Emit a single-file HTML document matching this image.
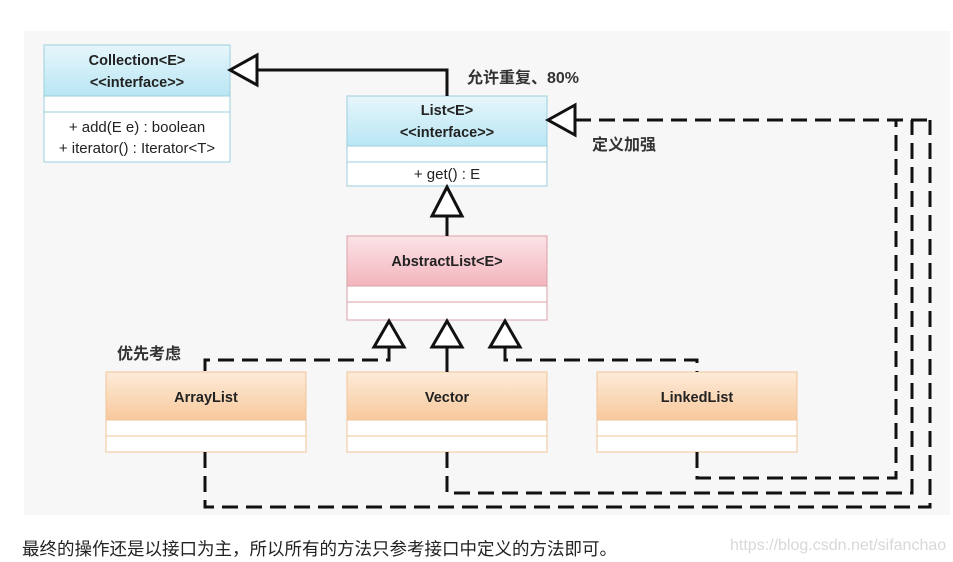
<!DOCTYPE html>
<html><head><meta charset="utf-8"><style>
html,body{margin:0;padding:0;background:#fff;width:953px;height:562px;overflow:hidden}
svg{display:block}
text{font-family:"Liberation Sans","Noto Sans CJK SC",sans-serif}
</style></head><body>
<svg width="953" height="562" viewBox="0 0 953 562" xmlns="http://www.w3.org/2000/svg">
<defs>
<linearGradient id="blue" x1="0" y1="0" x2="0" y2="1"><stop offset="0" stop-color="#e6f6fb"/><stop offset="1" stop-color="#b9e6f4"/></linearGradient>
<linearGradient id="pink" x1="0" y1="0" x2="0" y2="1"><stop offset="0" stop-color="#fbe3e6"/><stop offset="1" stop-color="#f3b5bd"/></linearGradient>
<linearGradient id="orange" x1="0" y1="0" x2="0" y2="1"><stop offset="0" stop-color="#fdebd9"/><stop offset="1" stop-color="#f8c99c"/></linearGradient>
</defs>
<rect x="24" y="31" width="926" height="484" fill="#f7f7f7"/>

<rect x="44" y="45" width="186" height="117" fill="#fff" stroke="#9ccfde"/>
<rect x="44" y="45" width="186" height="51" fill="url(#blue)" stroke="#9ccfde"/>
<line x1="44" y1="112" x2="230" y2="112" stroke="#9ccfde"/>
<text x="137" y="65" font-size="14.5" font-weight="bold" text-anchor="middle" fill="#222">Collection&lt;E&gt;</text>
<text x="137" y="87" font-size="14.5" font-weight="bold" text-anchor="middle" fill="#222">&lt;&lt;interface&gt;&gt;</text>
<text x="137" y="132" font-size="15" text-anchor="middle" fill="#222">+ add(E e) : boolean</text>
<text x="137" y="153" font-size="15" text-anchor="middle" fill="#222">+ iterator() : Iterator&lt;T&gt;</text>

<rect x="347" y="96" width="200" height="90" fill="#fff" stroke="#9ccfde"/>
<rect x="347" y="96" width="200" height="50" fill="url(#blue)" stroke="#9ccfde"/>
<line x1="347" y1="162" x2="547" y2="162" stroke="#9ccfde"/>
<text x="447" y="115" font-size="14.5" font-weight="bold" text-anchor="middle" fill="#222">List&lt;E&gt;</text>
<text x="447" y="137" font-size="14.5" font-weight="bold" text-anchor="middle" fill="#222">&lt;&lt;interface&gt;&gt;</text>
<text x="447" y="179" font-size="15" text-anchor="middle" fill="#222">+ get() : E</text>

<rect x="347" y="236" width="200" height="84" fill="#fff" stroke="#d9a0a8"/>
<rect x="347" y="236" width="200" height="50" fill="url(#pink)" stroke="#d9a0a8"/>
<line x1="347" y1="302" x2="547" y2="302" stroke="#d9a0a8"/>
<text x="447" y="266" font-size="14.5" font-weight="bold" text-anchor="middle" fill="#222">AbstractList&lt;E&gt;</text>

<g stroke="#f0c49a">
<rect x="106" y="372" width="200" height="80" fill="#fff"/><rect x="106" y="372" width="200" height="48" fill="url(#orange)"/><line x1="106" y1="436" x2="306" y2="436"/>
<rect x="347" y="372" width="200" height="80" fill="#fff"/><rect x="347" y="372" width="200" height="48" fill="url(#orange)"/><line x1="347" y1="436" x2="547" y2="436"/>
<rect x="597" y="372" width="200" height="80" fill="#fff"/><rect x="597" y="372" width="200" height="48" fill="url(#orange)"/><line x1="597" y1="436" x2="797" y2="436"/>
</g>
<text x="206" y="402" font-size="14.5" font-weight="bold" text-anchor="middle" fill="#222">ArrayList</text>
<text x="447" y="402" font-size="14.5" font-weight="bold" text-anchor="middle" fill="#222">Vector</text>
<text x="697" y="402" font-size="14.5" font-weight="bold" text-anchor="middle" fill="#222">LinkedList</text>

<g fill="none" stroke="#111" stroke-width="3">
<polyline points="257,70 447,70 447,96"/>
<line x1="447" y1="216" x2="447" y2="236"/>
<line x1="447" y1="347" x2="447" y2="372"/>
<polygon points="230,70 257,55 257,85" fill="#fff"/>
<polygon points="447,187 432,216 462,216" fill="#fff"/>
<polygon points="389,321 374,347 404,347" fill="#fff"/>
<polygon points="447,321 432,347 462,347" fill="#fff"/>
<polygon points="505,321 490,347 520,347" fill="#fff"/>
<polygon points="548,120 575,105 575,135" fill="#fff"/>
</g>
<g fill="none" stroke="#111" stroke-width="3" stroke-dasharray="16,8">
<polyline points="389,347 389,360 205,360 205,372"/>
<polyline points="505,347 505,360 697,360 697,372"/>
<polyline points="575,120 930,120"/>
<polyline points="697,452 697,478 896,478 896,120"/>
<polyline points="447,452 447,493 912,493 912,120"/>
<polyline points="205,452 205,507 930,507 930,120"/>
</g>

<text x="467" y="83" font-size="16" font-weight="bold" fill="#333">允许重复、80%</text>
<text x="592" y="150" font-size="16" font-weight="bold" fill="#333">定义加强</text>
<text x="117" y="359" font-size="16" font-weight="bold" fill="#333">优先考虑</text>

<text x="22" y="555" font-size="17.5" fill="#222">最终的操作还是以接口为主，所以所有的方法只参考接口中定义的方法即可。</text>
<text x="730" y="550" font-size="16" fill="#d8d8d8">https://blog.csdn.net/sifanchao</text>
</svg>
</body></html>
